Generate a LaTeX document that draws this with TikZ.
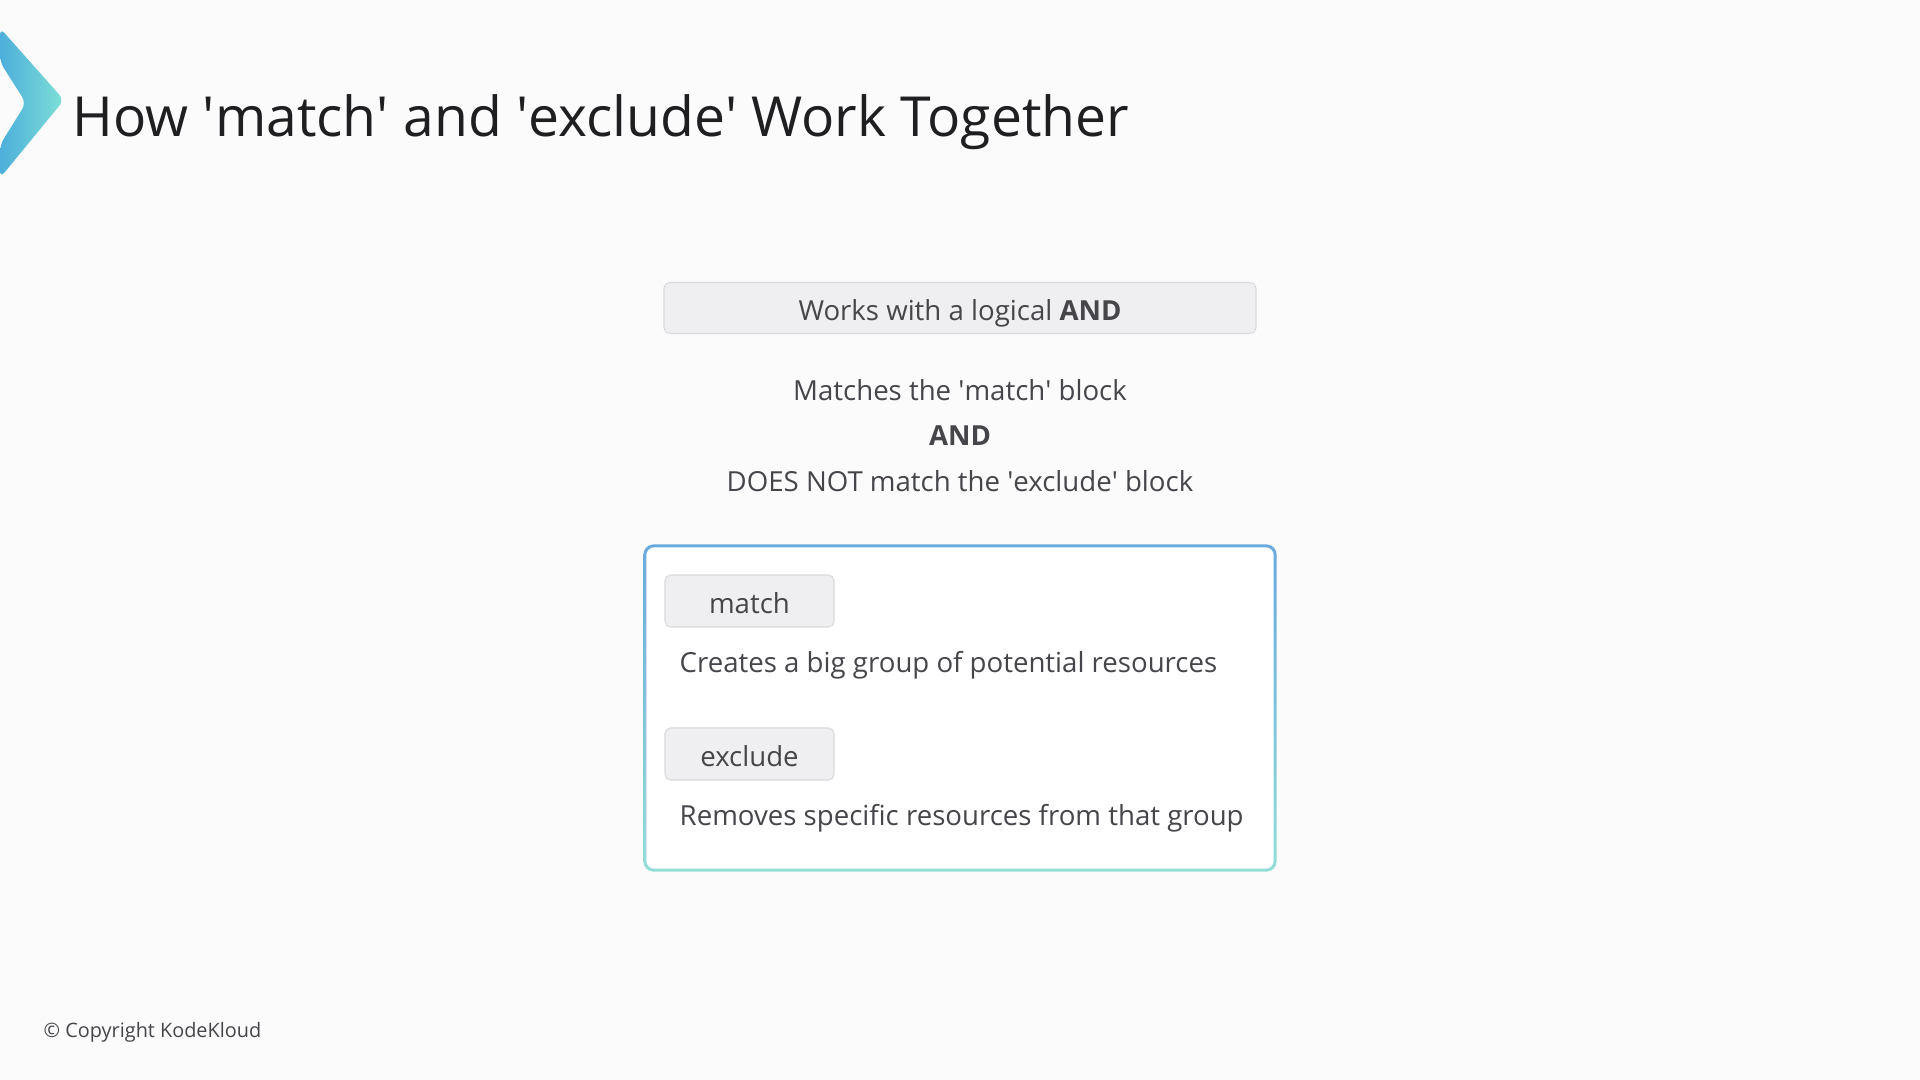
\documentclass[tikz,border=0pt]{standalone}
\usepackage{fontspec}
\setmainfont{Open Sans}
\usetikzlibrary{positioning}
\newlength\pxu
\setlength\pxu{0.01cm}
\definecolor{bgcol}{HTML}{FBFBFC}
\definecolor{titlecol}{HTML}{1F1F22}
\definecolor{txtcol}{HTML}{45454A}
\definecolor{tagfill}{HTML}{EFEFF1}
\definecolor{tagline}{HTML}{DADADD}
\definecolor{chevA}{HTML}{4DAEDB}
\definecolor{chevB}{HTML}{7EE0D6}
\definecolor{boxA}{HTML}{6AA9DE}
\definecolor{boxB}{HTML}{94DED6}
\newcommand\q{\textquotesingle}
\begin{document}
\begin{tikzpicture}[x=0.01cm,y=-0.01cm,
  every node/.style={text=txtcol, inner sep=0pt},
  body/.style={font=\fontsize{7.85}{9}\selectfont},
  tagbox/.style={draw=tagline, fill=tagfill, line width=0.3pt, rounded corners=1.6pt, body, text height=7.2pt, text depth=0pt}]
  % background
  \fill[bgcol] (0,0) rectangle (1920,1080);
  % chevron
  \shade[left color=chevA, right color=chevB, rounded corners=2pt]
    (0,28) -- (64,100) -- (0,178) -- (0,145) -- (26,103) -- (0,62) -- cycle;
  % title
  \node[anchor=west, text=titlecol, font=\fontsize{15.7}{18}\selectfont] (title) at (72,122) {How \q match\q{} and \q exclude\q{} Work Together};
  % logic
  \node[tagbox, minimum width=592\pxu, minimum height=51\pxu] (logic) at (960,308) {Works with a logical \textbf{AND}};
  \node[body] (line1) at (960,390) {Matches the \q match\q{} block};
  \node[body] (line2) at (960,436) {\textbf{AND}};
  \node[body] (line3) at (960,481) {DOES NOT match the \q exclude\q{} block};
  % group box
  \node[minimum width=632\pxu, minimum height=326\pxu] (group) at (960,708) {};
  \shade[top color=boxA, bottom color=boxB, rounded corners=3pt] (group.north west) rectangle (group.south east);
  \fill[white, rounded corners=2.3pt] ([shift={(3,3)}]group.north west) rectangle ([shift={(-3,-3)}]group.south east);
  \node[tagbox, minimum width=169\pxu, minimum height=52\pxu] (match) at (749.5,601) {match};
  \node[body, anchor=west] (matchtxt) at (679,665) {Creates a big group of potential resources};
  \node[tagbox, minimum width=169\pxu, minimum height=52\pxu] (exclude) at (749.5,754) {exclude};
  \node[body, anchor=west] (excludetxt) at (679,818) {Removes specific resources from that group};
  % footer
  \node[anchor=west, font=\fontsize{5.65}{6}\selectfont] (copy) at (43,1032) {© Copyright KodeKloud};
\end{tikzpicture}
\end{document}
